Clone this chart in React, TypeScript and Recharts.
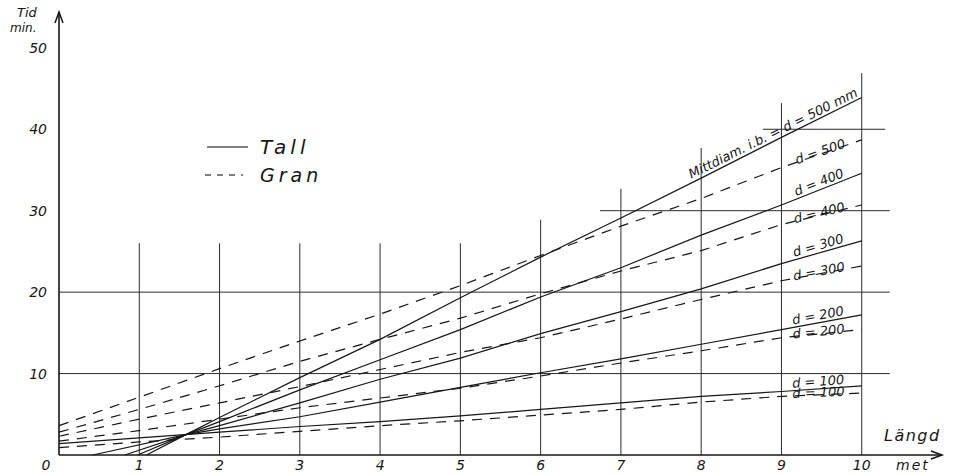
import { LineChart, Line, XAxis, YAxis, ReferenceLine, ReferenceDot, Legend } from 'recharts'

// Längd (m) where the Gran readings were taken
const lengths = [0, 1, 2, 3, 4, 5, 6, 7, 8, 9, 10]

// Gran (dashed), Tid in minutes
const gran500 = [3.6, 7.1, 10.6, 14.0, 17.3, 20.8, 24.5, 28.1, 31.5, 35.3, 38.7]
const gran400 = [2.8, 5.6, 8.5, 11.5, 14.2, 16.8, 19.8, 22.6, 25.1, 28.3, 30.7]
const gran300 = [2.3, 4.4, 6.4, 8.4, 10.5, 12.6, 14.4, 16.7, 19.1, 21.4, 23.2]
const gran200 = [1.7, 3.0, 4.4, 5.8, 7.0, 8.2, 9.7, 11.3, 12.8, 14.4, 15.4]
const gran100 = [0.9, 1.6, 2.2, 2.9, 3.6, 4.2, 4.9, 5.6, 6.5, 7.2, 7.6]

// Tall (solid): [längd, tid] - the lines start on the axis and meet near 1.6 m
const tall500: [number, number][] = [[1.09, 0], [1.58, 2.5], [2, 4.6], [3, 9.5], [4, 14.2], [5, 19.3], [6, 24.3], [7, 29.1], [8, 34.0], [9, 39.0], [10, 43.9]]
const tall400: [number, number][] = [[0.98, 0], [1.58, 2.5], [2, 4.1], [3, 8.0], [4, 11.7], [5, 15.4], [6, 19.4], [7, 23.0], [8, 27.0], [9, 30.7], [10, 34.6]]
const tall300: [number, number][] = [[0.82, 0], [1.58, 2.5], [2, 3.6], [3, 6.4], [4, 9.3], [5, 11.9], [6, 14.9], [7, 17.6], [8, 20.4], [9, 23.5], [10, 26.3]]
const tall200: [number, number][] = [[0.42, 0], [1.58, 2.5], [2, 3.2], [3, 4.7], [4, 6.5], [5, 8.3], [6, 10.1], [7, 11.8], [8, 13.6], [9, 15.4], [10, 17.2]]
const tall100 = [1.4, 2.1, 2.8, 3.5, 4.1, 4.8, 5.6, 6.4, 7.2, 7.8, 8.5]

// hand drawn grid
const gridLengths = [1, 2, 3, 4, 5, 6, 7, 8, 9, 10]
const gridTops = [26, 26, 26, 26, 26, 28.9, 32.7, 37.7, 43.2, 46.9]
const gridMinutes = [10, 20, 30, 40]
const gridFrom = [0, 0, 6.74, 8.77]
const gridTo = [10.35, 10.35, 10.35, 10.29]

const xTicks = [0, 1, 2, 3, 4, 5, 6, 7, 8, 9, 10]
const yTicks = [10, 20, 30, 40, 50]

const X_MAX = 11
const Y_MAX = 54.4
const W = 956
const H = 475
const LEFT = 59
const RIGHT = 14
const TOP = 12
const BOTTOM = 20
const PX_X = (W - LEFT - RIGHT) / X_MAX
const PX_Y = (H - TOP - BOTTOM) / Y_MAX

const FONT = "'DejaVu Sans', sans-serif"
const INK = '#161616'

const toPoints = (pairs: [number, number][]) => pairs.map(([x, y]) => ({ x, y }))
const fromLengths = (values: number[]) => values.map((y, i) => ({ x: lengths[i], y }))

const series = [
  { key: 'tall500', data: toPoints(tall500), dashed: false, text: 'Mittdiam. i.b. = d = 500 mm' },
  { key: 'gran500', data: fromLengths(gran500), dashed: true, text: 'd = 500' },
  { key: 'tall400', data: toPoints(tall400), dashed: false, text: 'd = 400' },
  { key: 'gran400', data: fromLengths(gran400), dashed: true, text: 'd = 400' },
  { key: 'tall300', data: toPoints(tall300), dashed: false, text: 'd = 300' },
  { key: 'gran300', data: fromLengths(gran300), dashed: true, text: 'd = 300' },
  { key: 'tall200', data: toPoints(tall200), dashed: false, text: 'd = 200' },
  { key: 'gran200', data: fromLengths(gran200), dashed: true, text: 'd = 200' },
  { key: 'tall100', data: fromLengths(tall100), dashed: false, text: 'd = 100' },
  { key: 'gran100', data: fromLengths(gran100), dashed: true, text: 'd = 100' },
]

function makeLabel(s: typeof series[number]) {
  const n = s.data.length
  const a = s.data[n - 2]
  const b = s.data[n - 1]
  const angle = (-Math.atan2((b.y - a.y) * PX_Y, (b.x - a.x) * PX_X) * 180) / Math.PI
  const long = s.key === 'tall500'
  return (props: any) => {
    if (props.index !== n - 1) return <g />
    const { x, y } = props
    const tx = long ? x - 2 : x - 17
    const ty = s.dashed ? y + 2 : y - 3
    return (
      <text x={tx} y={ty} textAnchor="end" transform={`rotate(${angle}, ${x}, ${y})`}
        fontFamily={FONT} fontStyle="italic" fontSize={13} fill={INK}>
        {s.text}
      </text>
    )
  }
}

const XTick = ({ x, y, payload }: any) => (
  <text x={x + (payload.value === 0 ? -13 : 0)} y={y + 13} textAnchor="middle"
    fontFamily={FONT} fontStyle="italic" fontSize={14} fill={INK}>
    {payload.value}
  </text>
)

const YTick = ({ x, y, payload }: any) => (
  <text x={x - 10} y={y + 5} textAnchor="end"
    fontFamily={FONT} fontStyle="italic" fontSize={14} fill={INK}>
    {payload.value}
  </text>
)

const renderLegend = () => (
  <svg width={150} height={55}>
    <line x1={2} y1={12} x2={43} y2={12} stroke="#555" strokeWidth={1.5} />
    <text x={55} y={19} fontFamily={FONT} fontStyle="italic" fontSize={20} letterSpacing={4} fill={INK}>Tall</text>
    <line x1={0} y1={40} x2={38} y2={40} stroke="#555" strokeWidth={1.3} strokeDasharray="6 6" />
    <text x={55} y={47} fontFamily={FONT} fontStyle="italic" fontSize={19} letterSpacing={4} fill={INK}>Gran</text>
  </svg>
)

const xArrow = ({ cx, cy }: any) => (
  <path d={`M${cx - 11},${cy - 4} L${cx},${cy} L${cx - 11},${cy + 4}`} fill="none" stroke={INK} strokeWidth={1.5} />
)
const yArrow = ({ cx, cy }: any) => (
  <path d={`M${cx - 4},${cy + 11} L${cx},${cy} L${cx + 4},${cy + 11}`} fill="none" stroke={INK} strokeWidth={1.5} />
)

const note = { position: 'absolute' as const, fontFamily: FONT, fontStyle: 'italic', color: INK, lineHeight: 1 }

export default function App() {
  return (
    <div style={{ position: 'absolute', left: 0, top: 0, width: W, height: H, background: '#fff' }}>
      <LineChart width={W} height={H} margin={{ top: TOP, right: RIGHT, bottom: 0, left: 0 }}>
        <XAxis type="number" dataKey="x" domain={[0, X_MAX]} ticks={xTicks} height={BOTTOM}
          axisLine={{ stroke: INK, strokeWidth: 1.6 }} tickLine={false} tickSize={0} tick={<XTick />}
          allowDuplicatedCategory={false} />
        <YAxis type="number" domain={[0, Y_MAX]} ticks={yTicks} width={LEFT}
          axisLine={{ stroke: INK, strokeWidth: 1.6 }} tickLine={false} tickSize={0} tick={<YTick />} />

        {gridLengths.map((g, i) => (
          <ReferenceLine key={`v${g}`} segment={[{ x: g, y: 0 }, { x: g, y: gridTops[i] }]} stroke="#2a2a2a" strokeWidth={1} />
        ))}
        {gridMinutes.map((m, i) => (
          <ReferenceLine key={`h${m}`} segment={[{ x: gridFrom[i], y: m }, { x: gridTo[i], y: m }]} stroke="#2a2a2a" strokeWidth={1} />
        ))}

        {series.map((s) => (
          <Line key={s.key} data={s.data} dataKey="y" type="linear" stroke={INK} strokeWidth={1.2}
            strokeDasharray={s.dashed ? '10 8' : undefined} dot={false} activeDot={false}
            isAnimationActive={false} label={makeLabel(s)} />
        ))}

        <ReferenceDot x={X_MAX} y={0} r={0} shape={xArrow} />
        <ReferenceDot x={0} y={Y_MAX} r={0} shape={yArrow} />

        <Legend layout="vertical" align="center" verticalAlign="middle" content={renderLegend}
          wrapperStyle={{ position: 'absolute', left: 205, top: 135, width: 150, height: 55 }} />
      </LineChart>

      <div style={{ ...note, left: 17, top: 6, fontSize: 13 }}>Tid</div>
      <div style={{ ...note, left: 10, top: 22, fontSize: 12 }}>min.</div>
      <div style={{ ...note, left: 884, top: 428, fontSize: 16, letterSpacing: 1.5 }}>Längd</div>
      <div style={{ ...note, left: 896, top: 458, fontSize: 14, letterSpacing: 2 }}>met</div>
    </div>
  )
}
